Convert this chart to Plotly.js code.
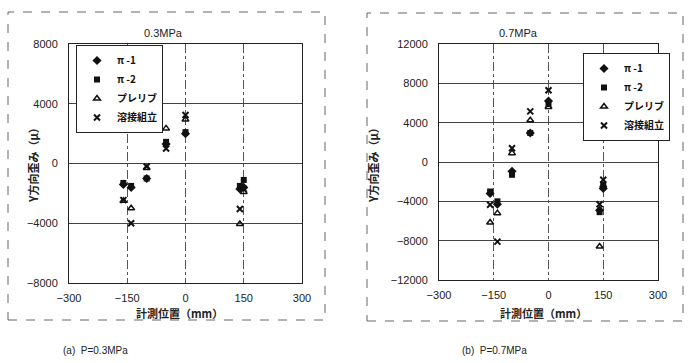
<!DOCTYPE html>
<html>
<head>
<meta charset="utf-8">
<script src="https://cdn.plot.ly/plotly-3.0.1.min.js"></script>
<style>html,body{margin:0;padding:0;background:#fff}#chart{width:693px;height:363px}</style>
</head>
<body>
<div id="chart"></div>
<script>
// measurement positions (mm)
const positions = [-160, -140, -100, -50, 0, 140, 150];
const seriesNames = ["π -1", "π -2", "プレリブ", "溶接組立"];

// P = 0.3 MPa
const a_pi1   = [-1400, -1600, -1000, 1300, 2000, -1700, -1600];
const a_pi2   = [-1300, -1500, -1000, 1450, 2100, -1500, -1100];
const a_prerib = [-2500, -3000, -300, 2350, 2950, -4050, -1900];
const a_weld  = [-2450, -4000, -200, 1000, 3250, -3050, -1700];

// P = 0.7 MPa
const b_pi1   = [-3200, -4300, -950, 2950, 6200, -4900, -2700];
const b_pi2   = [-3000, -4000, -1300, 2950, 5900, -5100, -2300];
const b_prerib = [-6150, -5200, 900, 4250, 5600, -8600, -2400];
const b_weld  = [-4350, -8100, 1400, 5150, 7300, -4300, -1800];

const xTicks = [-300, -150, 0, 150, 300];
const yTicksA = [-8000, -4000, 0, 4000, 8000];
const yTicksB = [-12000, -8000, -4000, 0, 4000, 8000, 12000];

const markers = [
  {symbol: "diamond", size: 7, color: "#111"},
  {symbol: "square", size: 6, color: "#111"},
  {symbol: "triangle-up-open", size: 6, color: "#111", line: {width: 1.5, color: "#111"}},
  {symbol: "x-thin-open", size: 6, color: "#111", line: {width: 2, color: "#111"}}
];

function mk(vals, i, xa, ya, leg) {
  return {x: positions, y: vals, name: seriesNames[i], type: "scatter", mode: "markers",
    marker: markers[i], xaxis: xa, yaxis: ya, legend: leg, cliponaxis: false};
}

const data = [
  mk(a_pi1, 0, "x", "y", "legend"), mk(a_pi2, 1, "x", "y", "legend"),
  mk(a_prerib, 2, "x", "y", "legend"), mk(a_weld, 3, "x", "y", "legend"),
  mk(b_pi1, 0, "x2", "y2", "legend2"), mk(b_pi2, 1, "x2", "y2", "legend2"),
  mk(b_prerib, 2, "x2", "y2", "legend2"), mk(b_weld, 3, "x2", "y2", "legend2")
];

const tickFont = {family: "Liberation Sans, Arial, sans-serif", size: 11, color: "#222"};
const jpFont = {family: "Noto Sans CJK JP, sans-serif", size: 11, color: "#222", weight: 700};

function xax(domain, anchor) {
  return {domain: domain, anchor: anchor, range: [-300, 300], tickvals: xTicks,
    ticktext: xTicks.map(String).map(s => s.replace("-", "−")),
    showgrid: true, gridcolor: "#555", griddash: "dashdot", gridwidth: 1,
    zeroline: false, showline: true, mirror: true, linecolor: "#222", linewidth: 1,
    ticks: "", tickfont: tickFont, ticklabelstandoff: 5, automargin: false};
}
function yax(domain, anchor, range, vals) {
  return {domain: domain, anchor: anchor, range: range, tickvals: vals,
    ticktext: vals.map(String).map(s => s.replace("-", "−")),
    showgrid: true, gridcolor: "#444", gridwidth: 1,
    zeroline: false, showline: true, mirror: true, linecolor: "#222", linewidth: 1,
    ticks: "", tickfont: tickFont, ticklabelstandoff: 8, automargin: false};
}

const legendBase = {bgcolor: "#fff", bordercolor: "#222", borderwidth: 1,
  font: {family: "Noto Sans CJK JP, sans-serif", size: 10, color: "#111", weight: 700},
  xanchor: "left", yanchor: "top", tracegroupgap: 0, itemwidth: 30};

function ann(text, x, y, font, extra) {
  return Object.assign({text: text, xref: "paper", yref: "paper", x: x / 693, y: (363 - y) / 363,
    xanchor: "center", yanchor: "middle", showarrow: false, font: font}, extra || {});
}
const latin11 = {family: "Liberation Sans, Arial, sans-serif", size: 11, color: "#222"};
const latin10 = {family: "Liberation Sans, Arial, sans-serif", size: 10, color: "#222"};

const layout = {
  width: 693, height: 363,
  margin: {l: 0, r: 0, t: 0, b: 0},
  paper_bgcolor: "#fff", plot_bgcolor: "#fff",
  showlegend: true,
  xaxis: xax([69/693, 302/693], "y"),
  yaxis: yax([80/363, 319/363], "x", [-8000, 8000], yTicksA),
  xaxis2: xax([439/693, 658/693], "y2"),
  yaxis2: yax([83/363, 319/363], "x2", [-12000, 12000], yTicksB),
  legend: Object.assign({x: 76/693, y: 318/363}, legendBase),
  legend2: Object.assign({x: 583/693, y: 310/363}, legendBase),
  shapes: [
    {type: "rect", xref: "paper", yref: "paper", x0: 8/693, x1: 325/693, y0: 43/363, y1: 351/363,
     line: {color: "#666", width: 1, dash: "dash"}},
    {type: "rect", xref: "paper", yref: "paper", x0: 367/693, x1: 683/693, y0: 42/363, y1: 350/363,
     line: {color: "#666", width: 1, dash: "dash"}}
  ],
  annotations: [
    ann("0.3MPa", 163, 33, latin11),
    ann("0.7MPa", 518, 33, latin11),
    ann("計測位置（mm）", 180, 313, jpFont),
    ann("計測位置（mm）", 543, 313, jpFont),
    ann("Y方向歪み（μ）", 33, 163, jpFont, {textangle: -90}),
    ann("Y方向歪み（μ）", 373, 162, jpFont, {textangle: -90}),
    ann("(a)  P=0.3MPa", 95, 350, latin10),
    ann("(b)  P=0.7MPa", 494, 350, latin10)
  ]
};

Plotly.newPlot("chart", data, layout, {staticPlot: true, displayModeBar: false});
</script>
</body>
</html>
